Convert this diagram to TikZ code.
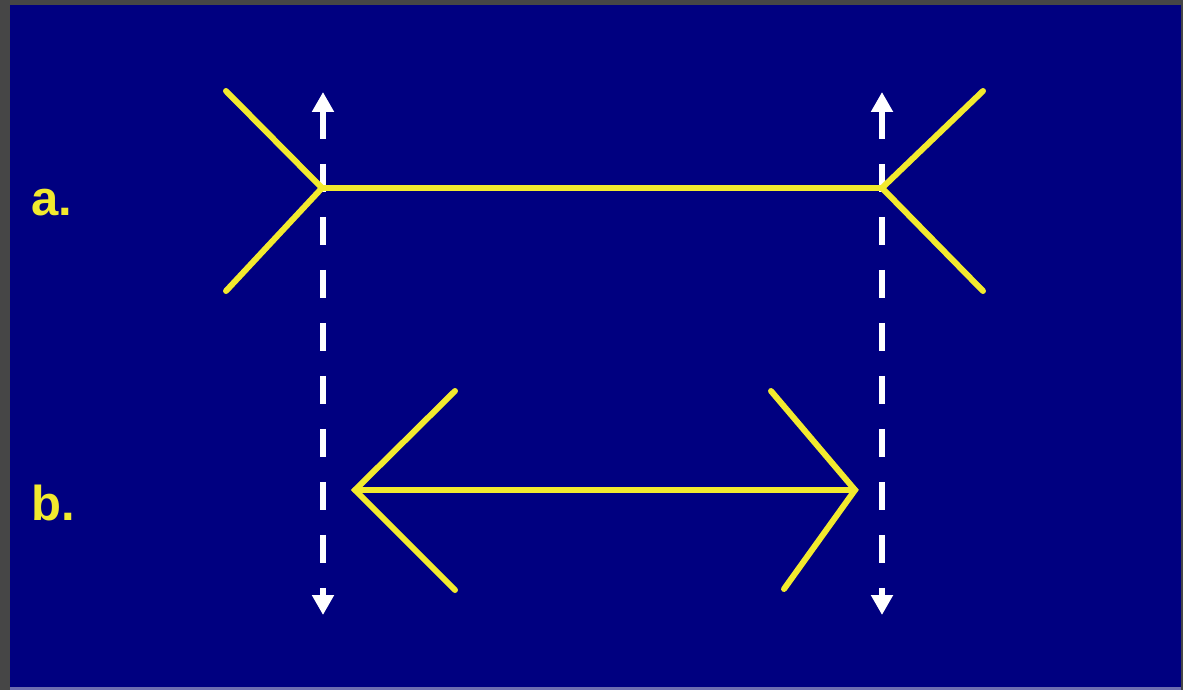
\documentclass[tikz,border=0pt]{standalone}
\usepackage{fontspec}
\setmainfont{Liberation Sans}
\usetikzlibrary{arrows.meta}
\definecolor{bordergray}{RGB}{70,70,70}
\definecolor{navyblue}{RGB}{0,0,128}
\definecolor{lav}{RGB}{110,110,176}
\definecolor{illyellow}{RGB}{242,234,46}
\tikzset{
  fin/.style={draw=illyellow, line width=3pt, line cap=round, line join=miter},
  guide/.style={draw=white, line width=3pt, dash pattern=on 14pt off 12.5pt,
    {Triangle[width=10.5pt,length=10pt]}-{Triangle[width=10.5pt,length=10pt]}},
  lbl/.style={text=illyellow, font=\bfseries\fontsize{24.5pt}{28pt}\selectfont, inner sep=0pt, anchor=base west}
}
\begin{document}
\begin{tikzpicture}[x=0.5pt,y=-0.5pt]
\useasboundingbox (0,0) rectangle (1183,690);
\fill[bordergray] (0,0) rectangle (1183,690);
\fill[navyblue] (10,5) rectangle (1181,687);
\fill[lav] (10,687) rectangle (1181,690);
% coordinates
\coordinate (aL) at (322,188);
\coordinate (aR) at (882,188);
\coordinate (aLt) at (226,91);
\coordinate (aLb) at (226,291);
\coordinate (aRt) at (983,91);
\coordinate (aRb) at (983,291);
\coordinate (bL) at (355,490);
\coordinate (bR) at (855,490);
\coordinate (bLt) at (455,391);
\coordinate (bLb) at (455,590);
\coordinate (bRt) at (771,391);
\coordinate (bRb) at (784,589);
\coordinate (g1t) at (323,92);
\coordinate (g1b) at (323,615);
\coordinate (g2t) at (882,92);
\coordinate (g2b) at (882,615);
% guides
\draw[guide] (g1t) -- (g1b);
\draw[guide] (g2t) -- (g2b);
% figure a
\draw[fin] (aL) -- (aR);
\draw[fin] (aLt) -- (aL) -- (aLb);
\draw[fin] (aRt) -- (aR) -- (aRb);
% figure b
\draw[fin] (bL) -- (bR);
\draw[fin] (bLt) -- (bL) -- (bLb);
\draw[fin] (bRt) -- (bR) -- (bRb);
% labels
\node[lbl] (la) at (31,215) {a.};
\node[lbl] (lb) at (31,520) {b.};
\end{tikzpicture}
\end{document}
